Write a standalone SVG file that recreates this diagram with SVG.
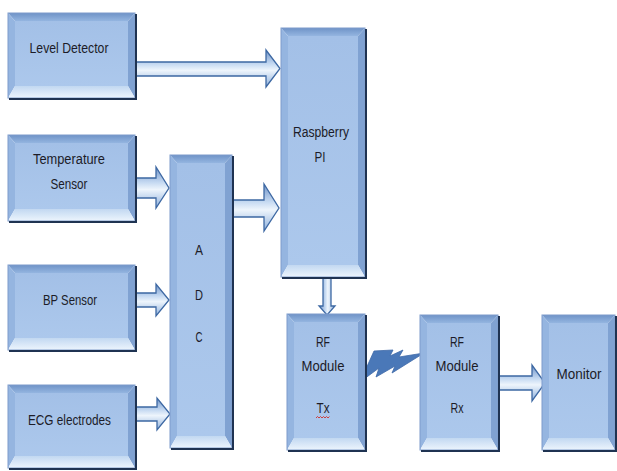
<svg xmlns="http://www.w3.org/2000/svg" width="617" height="471" viewBox="0 0 617 471">
<defs>
<linearGradient id="gTop" x1="0" y1="0" x2="0" y2="1"><stop offset="0" stop-color="#6f93c7"/><stop offset="1" stop-color="#94b5e0"/></linearGradient>
<linearGradient id="gBot" x1="0" y1="0" x2="0" y2="1"><stop offset="0" stop-color="#c2d8f1"/><stop offset="1" stop-color="#edf5fd"/></linearGradient>
<linearGradient id="gCen" x1="0" y1="0" x2="0" y2="1"><stop offset="0" stop-color="#a3c0e7"/><stop offset="1" stop-color="#acc8ec"/></linearGradient>
<linearGradient id="gArrH" x1="0" y1="0" x2="0" y2="1"><stop offset="0" stop-color="#6f93c7"/><stop offset="0.38" stop-color="#c6daf2"/><stop offset="0.55" stop-color="#eef5fc"/><stop offset="1" stop-color="#8cafdc"/></linearGradient>
<linearGradient id="gArrV" x1="0" y1="0" x2="1" y2="0"><stop offset="0" stop-color="#6f93c7"/><stop offset="0.4" stop-color="#c6daf2"/><stop offset="0.55" stop-color="#eef5fc"/><stop offset="1" stop-color="#8cafdc"/></linearGradient>
</defs>
<style>
.top{fill:url(#gTop)}
.lft{fill:#95b5e0}
.rgt{fill:#80a2d2}
.bot{fill:url(#gBot)}
.cen{fill:url(#gCen)}
.edge{fill:none;stroke:#7e9ccb;stroke-width:1}
.shd{fill:none;stroke:#1f3352;stroke-width:2}
.lbl{font-family:"Liberation Sans",Arial,sans-serif;font-size:15.5px;fill:#1c1c28;text-anchor:middle}
.arr{fill:url(#gArrH);stroke:#3d68a3;stroke-width:1.3;stroke-linejoin:miter}
.arrv{fill:url(#gArrV);stroke:#3d68a3;stroke-width:1.3}
.bolt{fill:#4a78b8;stroke:#3f6aa8;stroke-width:0.8}
</style>

<g id="connectors">
<polygon class="arr" points="136,62 266,62 266,50 280,68.5 266,87 266,76 136,76"/>
<polygon class="arr" points="136,178 156,178 156,167 169,188 156,208 156,198 136,198"/>
<polygon class="arr" points="233,200 264,200 264,184 279,208 264,231 264,217 233,217"/>
<polygon class="arr" points="136,293 156,293 156,284 169,300 156,316 156,307 136,307"/>
<polygon class="arr" points="136,407 157,407 157,398 170,414 157,430 157,421 136,421"/>
<polygon class="arrv" points="323,278 331,278 331,306 335,306 327,315 319,306 323,306"/>
<polygon class="arr" points="499,376 532,376 532,365 545,383 532,401 532,390 499,390"/>
<polygon id="wireless" class="bolt" points="360,382 374,351 393,350 390,356 403,350 399,357 424,353 392,373 395,366 376,377 379,368"/>
</g>

<g id="level-detector">
<rect class="cen" x="15" y="21" width="113" height="65"/>
<polygon class="top" points="8,13 135,13 128,21 15,21"/>
<polygon class="lft" points="8,13 15,21 15,86 8,98"/>
<polygon class="rgt" points="135,13 135,98 128,86 128,21"/>
<polygon class="bot" points="8,98 15,86 128,86 135,98"/>
<rect class="edge" x="8" y="13" width="127" height="85"/>
<path class="shd" d="M136,14 V99 H9"/>
<text class="lbl" x="69" y="53" textLength="79" lengthAdjust="spacingAndGlyphs">Level Detector</text>
</g>

<g id="temperature-sensor">
<rect class="cen" x="15" y="143" width="113" height="66"/>
<polygon class="top" points="8,135 135,135 128,143 15,143"/>
<polygon class="lft" points="8,135 15,143 15,209 8,221"/>
<polygon class="rgt" points="135,135 135,221 128,209 128,143"/>
<polygon class="bot" points="8,221 15,209 128,209 135,221"/>
<rect class="edge" x="8" y="135" width="127" height="86"/>
<path class="shd" d="M136,136 V222 H9"/>
<text class="lbl" x="69" y="164" textLength="72" lengthAdjust="spacingAndGlyphs">Temperature</text>
<text class="lbl" x="69" y="189" textLength="37" lengthAdjust="spacingAndGlyphs">Sensor</text>
</g>

<g id="bp-sensor">
<rect class="cen" x="15" y="273" width="113" height="65"/>
<polygon class="top" points="8,265 135,265 128,273 15,273"/>
<polygon class="lft" points="8,265 15,273 15,338 8,350"/>
<polygon class="rgt" points="135,265 135,350 128,338 128,273"/>
<polygon class="bot" points="8,350 15,338 128,338 135,350"/>
<rect class="edge" x="8" y="265" width="127" height="85"/>
<path class="shd" d="M136,266 V351 H9"/>
<text class="lbl" x="70" y="305" textLength="54" lengthAdjust="spacingAndGlyphs">BP Sensor</text>
</g>

<g id="ecg-electrodes">
<rect class="cen" x="15" y="393" width="113" height="63"/>
<polygon class="top" points="8,385 135,385 128,393 15,393"/>
<polygon class="lft" points="8,385 15,393 15,456 8,468"/>
<polygon class="rgt" points="135,385 135,468 128,456 128,393"/>
<polygon class="bot" points="8,468 15,456 128,456 135,468"/>
<rect class="edge" x="8" y="385" width="127" height="83"/>
<path class="shd" d="M136,386 V469 H9"/>
<text class="lbl" x="69.5" y="425" textLength="83" lengthAdjust="spacingAndGlyphs">ECG electrodes</text>
</g>

<g id="adc">
<rect class="cen" x="177" y="163" width="48" height="273"/>
<polygon class="top" points="170,155 232,155 225,163 177,163"/>
<polygon class="lft" points="170,155 177,163 177,436 170,448"/>
<polygon class="rgt" points="232,155 232,448 225,436 225,163"/>
<polygon class="bot" points="170,448 177,436 225,436 232,448"/>
<rect class="edge" x="170" y="155" width="62" height="293"/>
<path class="shd" d="M233,156 V449 H171"/>
<text class="lbl" x="199" y="255" textLength="8" lengthAdjust="spacingAndGlyphs">A</text>
<text class="lbl" x="199" y="300" textLength="8" lengthAdjust="spacingAndGlyphs">D</text>
<text class="lbl" x="199" y="342" textLength="7" lengthAdjust="spacingAndGlyphs">C</text>
</g>

<g id="raspberry-pi">
<rect class="cen" x="288" y="36" width="70" height="229"/>
<polygon class="top" points="281,28 365,28 358,36 288,36"/>
<polygon class="lft" points="281,28 288,36 288,265 281,277"/>
<polygon class="rgt" points="365,28 365,277 358,265 358,36"/>
<polygon class="bot" points="281,277 288,265 358,265 365,277"/>
<rect class="edge" x="281" y="28" width="84" height="249"/>
<path class="shd" d="M366,29 V278 H282"/>
<text class="lbl" x="321" y="137" textLength="56" lengthAdjust="spacingAndGlyphs">Raspberry</text>
<text class="lbl" x="320" y="162" textLength="11" lengthAdjust="spacingAndGlyphs">PI</text>
</g>

<g id="rf-tx">
<rect class="cen" x="294" y="322" width="64" height="116"/>
<polygon class="top" points="287,314 365,314 358,322 294,322"/>
<polygon class="lft" points="287,314 294,322 294,438 287,450"/>
<polygon class="rgt" points="365,314 365,450 358,438 358,322"/>
<polygon class="bot" points="287,450 294,438 358,438 365,450"/>
<rect class="edge" x="287" y="314" width="78" height="136"/>
<path class="shd" d="M366,315 V451 H288"/>
<text class="lbl" x="323" y="347" textLength="14" lengthAdjust="spacingAndGlyphs">RF</text>
<text class="lbl" x="323" y="371" textLength="43" lengthAdjust="spacingAndGlyphs">Module</text>
<text class="lbl" x="323" y="413" textLength="13" lengthAdjust="spacingAndGlyphs">Tx</text>
<path d="M316,418 l1.5,-1.5 l1.5,1.5 l1.5,-1.5 l1.5,1.5 l1.5,-1.5 l1.5,1.5 l1.5,-1.5 l1.5,1.5 l1.5,-1.5" fill="none" stroke="#d0302a" stroke-width="0.9"/>
</g>

<g id="rf-rx">
<rect class="cen" x="427" y="323" width="64" height="115"/>
<polygon class="top" points="420,315 498,315 491,323 427,323"/>
<polygon class="lft" points="420,315 427,323 427,438 420,450"/>
<polygon class="rgt" points="498,315 498,450 491,438 491,323"/>
<polygon class="bot" points="420,450 427,438 491,438 498,450"/>
<rect class="edge" x="420" y="315" width="78" height="135"/>
<path class="shd" d="M499,316 V451 H421"/>
<text class="lbl" x="457" y="347" textLength="14" lengthAdjust="spacingAndGlyphs">RF</text>
<text class="lbl" x="457" y="371" textLength="43" lengthAdjust="spacingAndGlyphs">Module</text>
<text class="lbl" x="457" y="413" textLength="13" lengthAdjust="spacingAndGlyphs">Rx</text>
</g>

<g id="monitor">
<rect class="cen" x="549" y="323" width="59" height="115"/>
<polygon class="top" points="542,315 615,315 608,323 549,323"/>
<polygon class="lft" points="542,315 549,323 549,438 542,450"/>
<polygon class="rgt" points="615,315 615,450 608,438 608,323"/>
<polygon class="bot" points="542,450 549,438 608,438 615,450"/>
<rect class="edge" x="542" y="315" width="73" height="135"/>
<path class="shd" d="M616,316 V451 H543"/>
<text class="lbl" x="579" y="379" textLength="45" lengthAdjust="spacingAndGlyphs">Monitor</text>
</g>
</svg>
